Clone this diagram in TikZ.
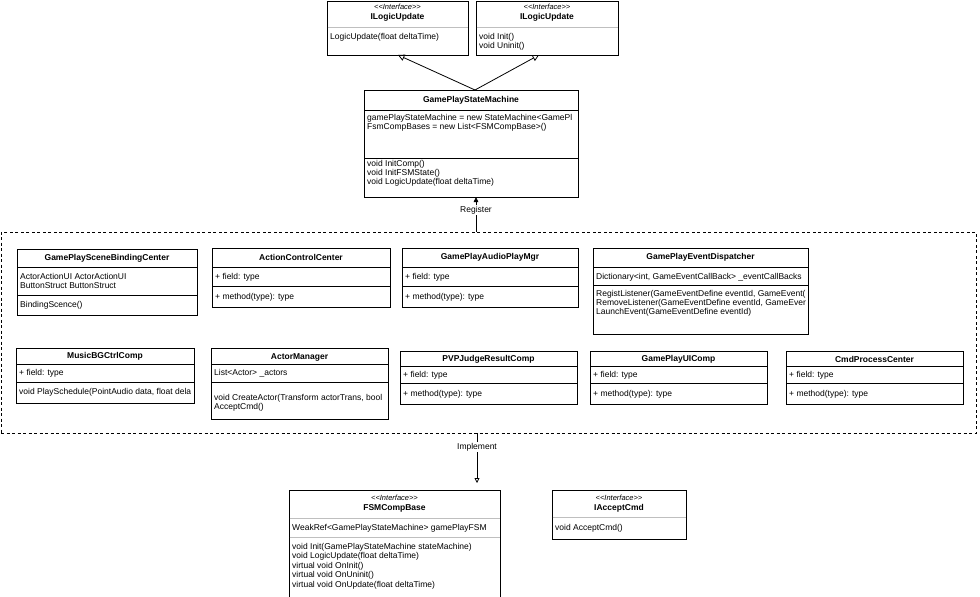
\documentclass[tikz,border=0pt]{standalone}
\usepackage{fontspec}
\setmainfont{Liberation Sans}
\usetikzlibrary{arrows.meta}
\begin{document}
\begin{tikzpicture}[x=1pt,y=-1pt,
  umlbox/.style={draw=black, line width=0.9pt, fill=white, anchor=north west, inner sep=0pt, outer sep=0pt},
  grpbox/.style={draw=black, line width=0.7pt, dash pattern=on 3pt off 2.5pt, anchor=north west, inner sep=0pt, outer sep=0pt},
  ttl/.style={font=\bfseries\fontsize{8.5}{10}\selectfont, inner sep=0pt},
  stereo/.style={font=\itshape\fontsize{7.5}{9}\selectfont, inner sep=0pt},
  txt/.style={font=\fontsize{8.5}{10}\selectfont, inner sep=0pt, anchor=west, text height=6pt, text depth=1.8pt},
  lbl/.style={font=\fontsize{8.5}{10}\selectfont, inner sep=1pt, fill=white},
  sep/.style={line width=0.7pt, draw=black},
  isep/.style={line width=1pt, draw=black!25},
  realize/.style={line width=0.8pt, -{Triangle[open, length=6.5pt, width=6.5pt]}},
  implarrow/.style={line width=0.8pt, -{Triangle[open, length=5pt, width=5pt]}},
  regarrow/.style={line width=0.8pt, -{Triangle[length=5pt, width=4.5pt]}}
]
\useasboundingbox (0,0) rectangle (980,597);
\clip (0,0) rectangle (980,597);

% ---------- top interfaces ----------
\node[umlbox, minimum width=141, minimum height=54] (ilu1) at (327,1) {};
\node[stereo] (ilu1-s) at (397.5,7) {{<}{<}Interface{>}{>}};
\node[ttl] (ilu1-t) at (397.5,17) {ILogicUpdate};
\draw[isep] (327.5,27) -- (467.5,27);
\node[txt] (ilu1-m1) at (330,37) {LogicUpdate(float deltaTime)};

\node[umlbox, minimum width=142, minimum height=54] (ilu2) at (476,1) {};
\node[stereo] (ilu2-s) at (547,7) {{<}{<}Interface{>}{>}};
\node[ttl] (ilu2-t) at (547,17) {ILogicUpdate};
\draw[isep] (476.5,27) -- (617.5,27);
\node[txt] (ilu2-m1) at (479,37) {void Init()};
\node[txt] (ilu2-m2) at (479,46) {void Uninit()};

% ---------- GamePlayStateMachine ----------
\node[umlbox, minimum width=214, minimum height=107] (gpsm) at (364,90) {};
\node[ttl] (gpsm-t) at (471,100) {GamePlayStateMachine};
\draw[sep] (364,110) -- (578,110);
\begin{scope}
\clip (364,90) rectangle (577.5,197);
\node[txt] (gpsm-a1) at (367,118) {gamePlayStateMachine = new StateMachine<GamePl};
\end{scope}
\node[txt] (gpsm-a2) at (367,127) {FsmCompBases = new List<FSMCompBase>()};
\draw[sep] (364,158) -- (578,158);
\node[txt] (gpsm-m1) at (367,164) {void InitComp()};
\node[txt] (gpsm-m2) at (367,173) {void InitFSMState()};
\node[txt] (gpsm-m3) at (367,182) {void LogicUpdate(float deltaTime)};

% ---------- group ----------
\node[grpbox, minimum width=975, minimum height=201] (grp) at (1,232) {};

% ---------- row 1 ----------
\node[umlbox, minimum width=180, minimum height=66] (gpsbc) at (17,249) {};
\node[ttl] (gpsbc-t) at (107,258) {GamePlaySceneBindingCenter};
\draw[sep] (17,267) -- (197,267);
\node[txt] (gpsbc-a1) at (20,277) {ActorActionUI ActorActionUI};
\node[txt] (gpsbc-a2) at (20,286) {ButtonStruct ButtonStruct};
\draw[sep] (17,295) -- (197,295);
\node[txt] (gpsbc-m1) at (20,305) {BindingScence()};

\node[umlbox, minimum width=178, minimum height=59] (acc) at (212,248) {};
\node[ttl] (acc-t) at (301,257) {ActionControlCenter};
\draw[sep] (212,267) -- (390,267);
\node[txt] (acc-a1) at (215,277) {+ field: type};
\draw[sep] (212,286) -- (390,286);
\node[txt] (acc-m1) at (215,297) {+ method(type): type};

\node[umlbox, minimum width=176, minimum height=59] (gpapm) at (402,248) {};
\node[ttl] (gpapm-t) at (490,257) {GamePlayAudioPlayMgr};
\draw[sep] (402,267) -- (578,267);
\node[txt] (gpapm-a1) at (405,277) {+ field: type};
\draw[sep] (402,286) -- (578,286);
\node[txt] (gpapm-m1) at (405,297) {+ method(type): type};

\node[umlbox, minimum width=215, minimum height=86] (gped) at (593,248) {};
\node[ttl] (gped-t) at (700.5,257) {GamePlayEventDispatcher};
\draw[sep] (593,267) -- (808,267);
\node[txt] (gped-a1) at (596,277) {Dictionary<int, GameEventCallBack> \_eventCallBacks};
\draw[sep] (593,285) -- (808,285);
\begin{scope}
\clip (593,248) rectangle (807.5,334);
\node[txt] (gped-m1) at (596,294) {RegistListener(GameEventDefine eventId, GameEvent(};
\node[txt] (gped-m2) at (596,303) {RemoveListener(GameEventDefine eventId, GameEver};
\end{scope}
\node[txt] (gped-m3) at (596,312) {LaunchEvent(GameEventDefine eventId)};

% ---------- row 2 ----------
\node[umlbox, minimum width=178, minimum height=55] (mbg) at (16,348) {};
\node[ttl] (mbg-t) at (105,356) {MusicBGCtrlComp};
\draw[sep] (16,364) -- (194,364);
\node[txt] (mbg-a1) at (19,373) {+ field: type};
\draw[sep] (16,382) -- (194,382);
\begin{scope}
\clip (16,348) rectangle (193.5,403);
\node[txt] (mbg-m1) at (19,392) {void PlaySchedule(PointAudio data, float dela};
\end{scope}

\node[umlbox, minimum width=177, minimum height=71] (am) at (211,348) {};
\node[ttl] (am-t) at (299.5,357) {ActorManager};
\draw[sep] (211,364) -- (388,364);
\node[txt] (am-a1) at (214,373) {List<Actor> \_actors};
\draw[sep] (211,382) -- (388,382);
\begin{scope}
\clip (211,348) rectangle (387.5,419);
\node[txt] (am-m1) at (214,398) {void CreateActor(Transform actorTrans, bool};
\end{scope}
\node[txt] (am-m2) at (214,407) {AcceptCmd()};

\node[umlbox, minimum width=177, minimum height=53] (pvp) at (400,351) {};
\node[ttl] (pvp-t) at (488.5,359) {PVPJudgeResultComp};
\draw[sep] (400,366) -- (577,366);
\node[txt] (pvp-a1) at (403,375) {+ field: type};
\draw[sep] (400,383) -- (577,383);
\node[txt] (pvp-m1) at (403,394) {+ method(type): type};

\node[umlbox, minimum width=177, minimum height=53] (gpui) at (590,351) {};
\node[ttl] (gpui-t) at (678.5,359) {GamePlayUIComp};
\draw[sep] (590,366) -- (767,366);
\node[txt] (gpui-a1) at (593,375) {+ field: type};
\draw[sep] (590,383) -- (767,383);
\node[txt] (gpui-m1) at (593,394) {+ method(type): type};

\node[umlbox, minimum width=177, minimum height=53] (cpc) at (786,351) {};
\node[ttl] (cpc-t) at (874.5,359) {CmdProcessCenter};
\draw[sep] (786,366) -- (963,366);
\node[txt] (cpc-a1) at (789,375) {+ field: type};
\draw[sep] (786,383) -- (963,383);
\node[txt] (cpc-m1) at (789,394) {+ method(type): type};

% ---------- bottom interfaces ----------
\node[umlbox, minimum width=211, minimum height=115] (fsm) at (289,490) {};
\node[stereo] (fsm-s) at (394.5,498) {{<}{<}Interface{>}{>}};
\node[ttl] (fsm-t) at (394.5,508) {FSMCompBase};
\draw[isep] (289.5,518) -- (499.5,518);
\node[txt] (fsm-a1) at (292,528) {WeakRef<GamePlayStateMachine> gamePlayFSM};
\draw[isep] (289.5,537) -- (499.5,537);
\node[txt] (fsm-m1) at (292,547) {void Init(GamePlayStateMachine stateMachine)};
\node[txt] (fsm-m2) at (292,556.5) {void LogicUpdate(float deltaTime)};
\node[txt] (fsm-m3) at (292,566) {virtual void OnInit()};
\node[txt] (fsm-m4) at (292,575.5) {virtual void OnUninit()};
\node[txt] (fsm-m5) at (292,585) {virtual void OnUpdate(float deltaTime)};

\node[umlbox, minimum width=134, minimum height=49] (iac) at (552,490) {};
\node[stereo] (iac-s) at (619,498) {{<}{<}Interface{>}{>}};
\node[ttl] (iac-t) at (619,508) {IAcceptCmd};
\draw[isep] (552.5,517) -- (685.5,517);
\node[txt] (iac-m1) at (555,528) {void AcceptCmd()};

% ---------- connectors ----------
\coordinate (gpsm-top) at (475,90);
\coordinate (ilu1-b) at (398,55);
\coordinate (ilu2-b) at (539,55);
\draw[realize] (gpsm-top) -- (ilu1-b);
\draw[realize] (gpsm-top) -- (ilu2-b);

\coordinate (reg-a) at (476,232);
\coordinate (reg-b) at (476,197);
\draw[regarrow] (reg-a) -- (reg-b);
\node[lbl] (reg-l) at (476,210) {Register};

\coordinate (impl-a) at (477,433);
\coordinate (impl-b) at (477,483);
\draw[implarrow] (impl-a) -- (impl-b);
\node[lbl] (impl-l) at (477,447) {Implement};
\end{tikzpicture}
\end{document}
